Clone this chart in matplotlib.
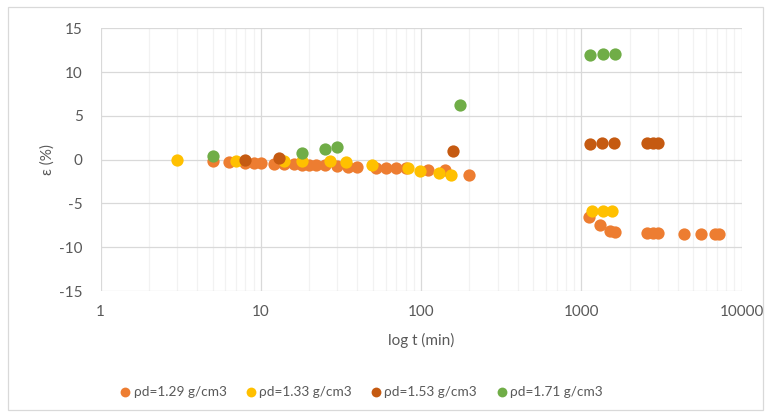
import matplotlib
matplotlib.use("Agg")
import matplotlib.pyplot as plt
from matplotlib.patches import Rectangle
from matplotlib.ticker import LogLocator, FixedLocator, NullFormatter

plt.rcParams['font.family'] = ['Lato', 'DejaVu Sans']
plt.rcParams['axes.unicode_minus'] = False

# creep strain vs time for four dry densities
labels = ['ρd=1.29 g/cm3', 'ρd=1.33 g/cm3', 'ρd=1.53 g/cm3', 'ρd=1.71 g/cm3']
colors = ['#ED7D31', '#FFC000', '#C55A11', '#70AD47']

t_129 = [5, 6.3, 8, 9, 10, 12, 14, 16, 18, 20, 22, 25, 30, 35, 40, 52, 60, 70, 80,
         110, 140, 200, 1110, 1300, 1500, 1630, 2570, 2800, 3000, 4370, 5560, 6790, 7170]
e_129 = [-0.1, -0.3, -0.4, -0.4, -0.4, -0.5, -0.5, -0.5, -0.55, -0.55, -0.55, -0.55, -0.7,
         -0.8, -0.8, -0.9, -0.9, -1.0, -1.0, -1.2, -1.2, -1.7, -6.5, -7.5, -8.1, -8.3,
         -8.4, -8.4, -8.4, -8.5, -8.5, -8.5, -8.5]

t_133 = [3, 7, 14, 18, 27, 34, 49, 83, 98, 130, 154, 1170, 1370, 1540]
e_133 = [0, -0.1, -0.1, -0.2, -0.2, -0.3, -0.6, -1.0, -1.25, -1.55, -1.75, -5.9, -5.9, -5.9]

t_153 = [8, 13, 157, 1130, 1350, 1600, 2570, 2780, 3000]
e_153 = [0, 0.2, 0.95, 1.85, 1.9, 1.9, 1.9, 1.9, 1.9]

t_171 = [5, 18, 25, 30, 175, 1130, 1370, 1620]
e_171 = [0.45, 0.75, 1.2, 1.4, 6.3, 12.0, 12.1, 12.1]

series = [(t_129, e_129), (t_133, e_133), (t_153, e_153), (t_171, e_171)]

fig = plt.figure(figsize=(7.71, 4.17), dpi=100)
ax = fig.add_axes([0.1306, 0.302, 0.8314, 0.63])

for (t, e), c, lab in zip(series, colors, labels):
    ax.scatter(t, e, s=78, color=c, label=lab, zorder=3, linewidths=0)

ax.set_xscale('log')
ax.set_xlim(1, 10000)
ax.set_ylim(-15, 15)
ax.yaxis.set_major_locator(FixedLocator(range(-15, 16, 5)))
ax.xaxis.set_minor_locator(LogLocator(base=10, subs=range(2, 10)))
ax.xaxis.set_minor_formatter(NullFormatter())
ax.set_xticks([1, 10, 100, 1000, 10000])
ax.set_xticklabels(['1', '10', '100', '1000', '10000'])

ax.grid(which='major', color='#D9D9D9', linewidth=0.9, zorder=0)
ax.grid(which='minor', axis='x', color='#F2F2F2', linewidth=0.9, zorder=0)
for sp in ax.spines.values():
    sp.set_visible(False)
ax.tick_params(which='both', length=0, colors='#595959', labelsize=11)
ax.tick_params(axis='y', pad=13)
ax.tick_params(axis='x', pad=10)

ax.set_xlabel('log t (min)', fontsize=11, color='#595959', labelpad=10)
ax.set_ylabel('ε (%)', fontsize=11, color='#595959', labelpad=3)

fig.legend(loc='center', bbox_to_anchor=(0.4676, 0.06), ncol=4, frameon=False,
           fontsize=9.8, labelcolor='#595959', handlelength=1.0, handletextpad=0.1,
           columnspacing=1.3, markerscale=0.8)

# light frame around the whole chart
fig.patches.append(Rectangle((8 / 771, 7 / 417), 755 / 771, 403 / 417,
                             transform=fig.transFigure, fill=False,
                             edgecolor='#D9D9D9', linewidth=0.9))

fig.savefig('out.png', dpi=100)
